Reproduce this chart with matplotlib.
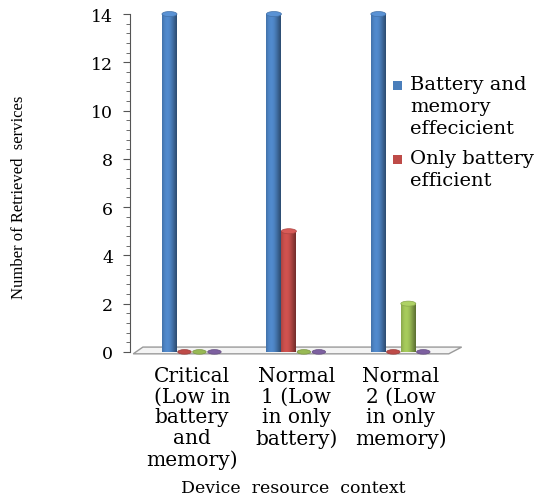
import matplotlib.pyplot as plt
import numpy as np
from matplotlib.patches import Ellipse, Polygon, Rectangle
from matplotlib.ticker import MultipleLocator
import matplotlib.transforms as mtransforms
from matplotlib.colors import to_rgb

# data
categories = ["Critical\n(Low in\nbattery\nand\nmemory)",
              "Normal\n1 (Low\nin only\nbattery)",
              "Normal\n2 (Low\nin only\nmemory)"]
series_names = ["Battery and\nmemory\neffecicient", "Only battery\nefficient",
                "Series3", "Series4"]
battery_memory = [14, 14, 14]
only_battery = [0, 5, 0]
series3 = [0, 0, 2]
series4 = [0, 0, 0]
colors = ["#4a7ebb", "#be4b48", "#98b954", "#7d60a0"]

values = [battery_memory, only_battery, series3, series4]

fig = plt.figure(figsize=(5.37, 5.02), dpi=100)
ax = fig.add_axes([0.2421, 0.297, 0.5996, 0.673])

x = np.arange(len(categories))
w = 0.1435
cap_h = 0.21

for k, (vals, col) in enumerate(zip(values, colors)):
    base = np.array(to_rgb(col))
    t = np.linspace(0, 1, 30)
    shade = 0.8 + 0.3 * np.cos((t - 0.35) * np.pi * 1.1)
    grad = np.clip(base[None, None, :] * shade[None, :, None], 0, 1)
    for i, v in enumerate(vals):
        xc = x[i] + (k - 1.5) * w
        if v > 0:
            ax.imshow(grad, extent=[xc - w / 2, xc + w / 2, 0, v], aspect="auto",
                      interpolation="bilinear", zorder=2, clip_on=False)
            top = np.clip(base * 1.08 + 0.04, 0, 1)
            ax.add_patch(Ellipse((xc, v), w, cap_h, facecolor=top,
                                 edgecolor=base * 0.9, lw=0.5, zorder=3, clip_on=False))
        else:
            ax.add_patch(Ellipse((xc, 0.0), w * 0.9, cap_h * 0.9, facecolor=col,
                                 edgecolor=base * 0.8, lw=0.5, zorder=3, clip_on=False))

# floor
trans = mtransforms.blended_transform_factory(ax.transAxes, ax.transData)
floor = Polygon([(0.01, -0.08), (0.99, -0.08), (1.03, 0.2), (0.04, 0.2)],
                closed=True, transform=trans, facecolor="#f4f4f4",
                edgecolor="#9a9a9a", lw=1.0, zorder=1, clip_on=False)
ax.add_patch(floor)

ax.set_xlim(-0.593, 2.49)
ax.set_ylim(0, 14)
ax.set_xticks(x)
ax.set_xticklabels(categories, family="DejaVu Serif", fontsize=14.5, linespacing=1.12)
ax.tick_params(axis="x", length=0, pad=10)
ax.yaxis.set_major_locator(MultipleLocator(2))
ax.yaxis.set_minor_locator(MultipleLocator(0.4))
ax.tick_params(axis="y", which="major", length=5, color="#555555", pad=7,
               labelsize=12.5)
ax.tick_params(axis="y", which="minor", length=3, color="#555555")
for lab in ax.get_yticklabels():
    lab.set_family("DejaVu Serif")
for s in ["top", "right", "bottom"]:
    ax.spines[s].set_visible(False)
ax.spines["left"].set_color("#555555")
ax.spines["left"].set_bounds(0, 14)
ax.set_facecolor("none")

fig.text(293 / 537, 1 - 489 / 502, "Device  resource  context", family="DejaVu Serif",
         fontsize=12.5, ha="center", va="center")
fig.text(19 / 537, 1 - 197 / 502, "Number of Retrieved  services",
         family="Liberation Serif", fontsize=12, rotation=90, ha="center", va="center")

# legend (only the first two entries are visible in the original)
leg_tops = [86, 160]
for j in range(2):
    ytop = 1 - leg_tops[j] / 502
    fig.text(410 / 537, ytop + 10 / 502, series_names[j], family="DejaVu Serif",
             fontsize=14, ha="left", va="top", linespacing=1.3)
    fig.patches.append(Rectangle((393 / 537, ytop - 5 / 502), 9 / 537, 9 / 502,
                                 transform=fig.transFigure, facecolor=colors[j],
                                 edgecolor="none"))

fig.savefig("out.png", dpi=100)
